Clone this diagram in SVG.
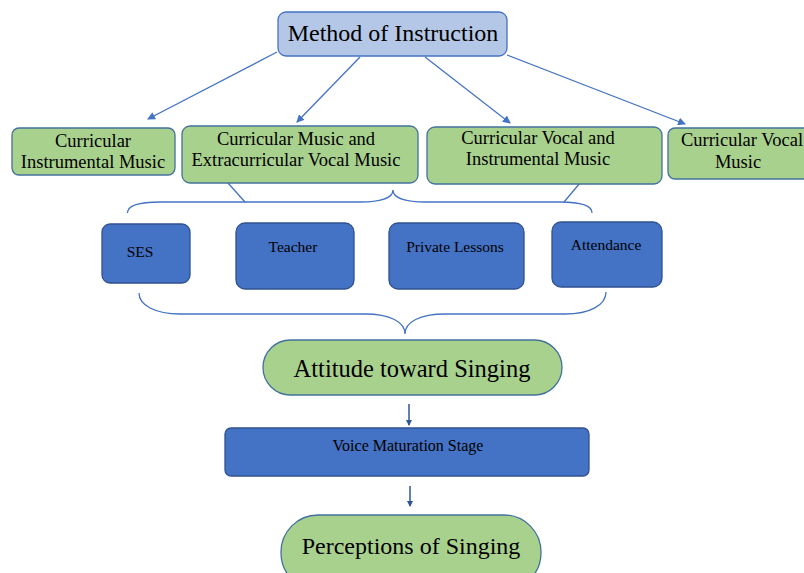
<svg xmlns="http://www.w3.org/2000/svg" width="804" height="573" viewBox="0 0 804 573">
<defs>
<style>
.t{font-family:"Liberation Serif","Times New Roman",serif;fill:#000;text-anchor:middle}
.m{font-size:18.5px}
.s{font-size:15.5px}
.g{fill:#a9d18e;stroke:#41719c;stroke-width:1.3}
.b{fill:#4472c4;stroke:#2f528f;stroke-width:1.3}
.c{fill:none;stroke:#4472c4;stroke-width:1.3}
.d{fill:none;stroke:#2f5597;stroke-width:1.5}
</style>
<marker id="ah" markerWidth="8" markerHeight="8" refX="7" refY="4" orient="auto" markerUnits="userSpaceOnUse">
<path d="M0,0 L8,4 L0,8 Z" fill="#4472c4"/>
</marker>
<marker id="ah2" markerWidth="6" markerHeight="6" refX="5" refY="3" orient="auto" markerUnits="userSpaceOnUse">
<path d="M0,0 L6,3 L0,6 Z" fill="#2f5597"/>
</marker>
</defs>
<rect width="804" height="573" fill="#fff"/>
<g id="connectors">
<line class="c" x1="277" y1="52" x2="148" y2="119" marker-end="url(#ah)"/>
<line class="c" x1="360" y1="57" x2="297" y2="122" marker-end="url(#ah)"/>
<line class="c" x1="425" y1="57" x2="510" y2="123" marker-end="url(#ah)"/>
<line class="c" x1="507" y1="55" x2="685" y2="124" marker-end="url(#ah)"/>
<line class="c" x1="228" y1="183" x2="245" y2="202"/>
<line class="c" x1="580" y1="183" x2="564" y2="202"/>
<path class="c" d="M127.5,213 C127.5,205 140,202 160,202 L360,202 C380,202 393,198 393,190 C393,198 406,202 426,202 L560,202 C580,202 592,205 592,213"/>
<path class="c" d="M139,293 C139,305 155,314 180,314 L365,314 C390,314 405,322 405,334 C405,322 420,314 445,314 L565,314 C590,314 606,305 606,292"/>
<line class="d" x1="409" y1="404" x2="409" y2="425" marker-end="url(#ah2)"/>
<line class="d" x1="410" y1="486" x2="410" y2="506" marker-end="url(#ah2)"/>
</g>
<g id="method">
<rect x="278" y="12" width="229" height="44" rx="8" fill="#b4c7e7" stroke="#4472c4" stroke-width="1.3"/>
<text class="t" x="393" y="41" font-size="24">Method of Instruction</text>
</g>
<g id="cim">
<rect class="g" x="12" y="128" width="163" height="47" rx="7"/>
<text class="t m" x="93" y="147">Curricular</text>
<text class="t m" x="93" y="168">Instrumental Music</text>
</g>
<g id="cmevm">
<rect class="g" x="182" y="126" width="236" height="57" rx="8"/>
<text class="t m" x="296" y="145">Curricular Music  and</text>
<text class="t m" x="296" y="166">Extracurricular Vocal Music</text>
</g>
<g id="cvim">
<rect class="g" x="427" y="127" width="235" height="57" rx="8"/>
<text class="t m" x="538" y="144">Curricular Vocal and</text>
<text class="t m" x="538" y="165">Instrumental Music</text>
</g>
<g id="cvm">
<rect class="g" x="668" y="128" width="150" height="51" rx="7"/>
<text class="t m" x="742" y="146">Curricular Vocal</text>
<text class="t m" x="738" y="168">Music</text>
</g>
<g id="ses">
<rect class="b" x="102" y="224" width="88" height="59" rx="8"/>
<text class="t s" x="140" y="257">SES</text>
</g>
<g id="teacher">
<rect class="b" x="236" y="223" width="118" height="66" rx="9"/>
<text class="t s" x="293" y="252">Teacher</text>
</g>
<g id="private">
<rect class="b" x="389" y="223" width="135" height="66" rx="9"/>
<text class="t s" x="455" y="252">Private Lessons</text>
</g>
<g id="attendance">
<rect class="b" x="552" y="222" width="110" height="65" rx="9"/>
<text class="t s" x="606" y="250">Attendance</text>
</g>
<g id="attitude">
<rect class="g" x="263" y="340" width="299" height="55" rx="27.5"/>
<text class="t" x="412" y="377" font-size="24.5">Attitude toward Singing</text>
</g>
<g id="voice">
<rect class="b" x="225" y="428" width="364" height="48" rx="6"/>
<text class="t" x="408" y="451" font-size="16">Voice Maturation Stage</text>
</g>
<g id="perceptions">
<rect class="g" x="281" y="515" width="260" height="75" rx="37"/>
<text class="t" x="411" y="554" font-size="24">Perceptions of Singing</text>
</g>
</svg>
